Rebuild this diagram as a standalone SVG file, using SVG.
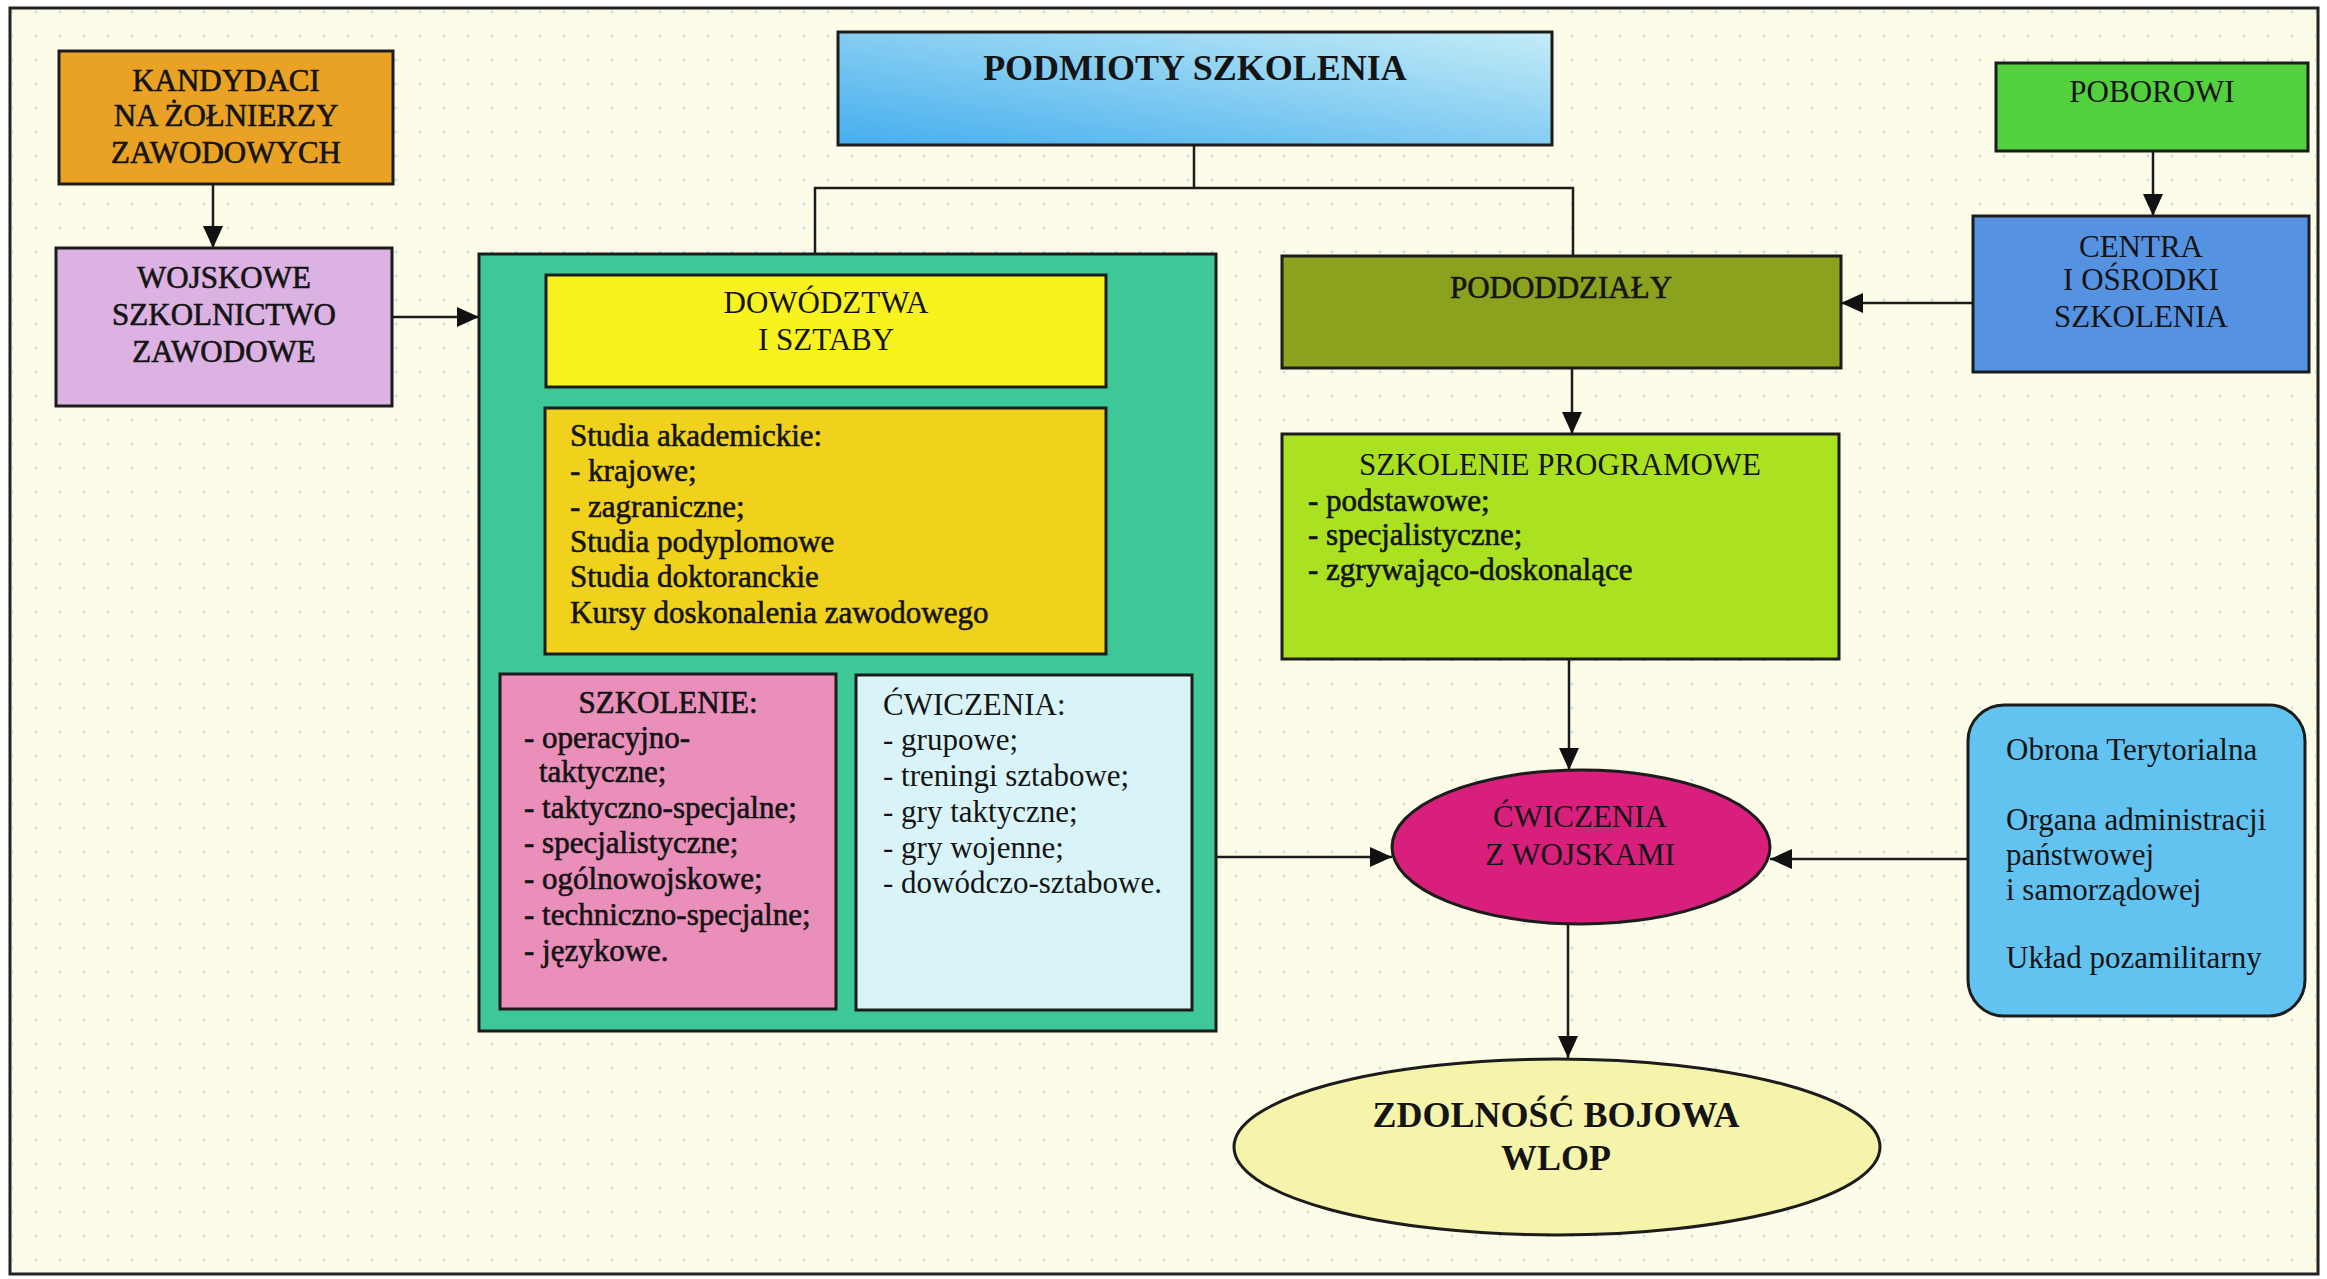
<svg xmlns="http://www.w3.org/2000/svg" width="2327" height="1279" viewBox="0 0 2327 1279">
<defs>
<style>
.t{font-family:"Liberation Serif","Times New Roman",serif;font-size:31px;fill:#141414}
.c{text-anchor:middle}
.b{font-weight:bold;font-size:36px}
.h{stroke:#141414;stroke-width:0.6}
.box{stroke:#1c1c1c;stroke-width:3}
.ln{fill:none;stroke:#1c1c1c;stroke-width:2.5}
.ar{fill:none;stroke:#1c1c1c;stroke-width:2.5;marker-end:url(#ah)}
</style>
<marker id="ah" markerUnits="userSpaceOnUse" markerWidth="22" markerHeight="20" refX="22" refY="10" orient="auto">
<path d="M0,0 L22,10 L0,20 z" fill="#111"/>
</marker>
<pattern id="dots" width="24" height="24" patternUnits="userSpaceOnUse">
<circle cx="12" cy="12" r="1.4" fill="#9fcfe0" opacity="0.6"/>
</pattern>
<linearGradient id="gPod" x1="0" y1="1" x2="1" y2="0">
<stop offset="0" stop-color="#45aeee"/>
<stop offset="1" stop-color="#c4ecf6"/>
</linearGradient>
</defs>
<rect width="2327" height="1279" fill="#ffffff"/>
<rect x="10" y="8" width="2308" height="1266" fill="#fcfce9" stroke="#222" stroke-width="3"/>
<rect x="12" y="10" width="2304" height="1262" fill="url(#dots)"/>

<g id="connectors">
<path class="ar" d="M213,184 V248"/>
<path class="ar" d="M392,317 H479"/>
<path class="ln" d="M1194,145 V188"/>
<path class="ln" d="M815,254 V188 H1573 V256"/>
<path class="ar" d="M2153,151 V216"/>
<path class="ar" d="M1973,303 H1841"/>
<path class="ar" d="M1572,368 V434"/>
<path class="ar" d="M1569,659 V770"/>
<path class="ar" d="M1216,857 H1392"/>
<path class="ar" d="M1968,859 H1770"/>
<path class="ar" d="M1568,924 V1058"/>
</g>

<g id="kandydaci">
<rect class="box" x="59" y="51" width="334" height="133" fill="#e9a224"/>
<text class="t c h" x="226" y="91">KANDYDACI</text>
<text class="t c h" x="226" y="126">NA ŻOŁNIERZY</text>
<text class="t c h" x="226" y="163">ZAWODOWYCH</text>
</g>

<g id="wojskowe">
<rect class="box" x="56" y="248" width="336" height="158" fill="#dcb2e2"/>
<text class="t c h" x="224" y="288">WOJSKOWE</text>
<text class="t c h" x="224" y="325">SZKOLNICTWO</text>
<text class="t c h" x="224" y="362">ZAWODOWE</text>
</g>

<g id="podmioty">
<rect class="box" x="838" y="32" width="714" height="113" fill="url(#gPod)"/>
<text class="t c b" x="1195" y="80">PODMIOTY SZKOLENIA</text>
</g>

<g id="grupa-dowodztwa">
<rect class="box" x="479" y="254" width="737" height="777" fill="#3ec898"/>
</g>

<g id="dowodztwa">
<rect class="box" x="546" y="275" width="560" height="112" fill="#f8f21e"/>
<text class="t c" x="826" y="313">DOWÓDZTWA</text>
<text class="t c" x="826" y="350">I SZTABY</text>
</g>

<g id="studia">
<rect class="box" x="545" y="408" width="561" height="246" fill="#f0d21c"/>
<text class="t h" x="570" y="446">Studia akademickie:</text>
<text class="t h" x="570" y="481">- krajowe;</text>
<text class="t h" x="570" y="517">- zagraniczne;</text>
<text class="t h" x="570" y="552">Studia podyplomowe</text>
<text class="t h" x="570" y="587">Studia doktoranckie</text>
<text class="t h" x="570" y="623">Kursy doskonalenia zawodowego</text>
</g>

<g id="szkolenie">
<rect class="box" x="500" y="674" width="336" height="335" fill="#e98fba"/>
<text class="t c h" x="668" y="713">SZKOLENIE:</text>
<text class="t h" x="524" y="748">- operacyjno-</text>
<text class="t h" x="539" y="782">taktyczne;</text>
<text class="t h" x="524" y="818">- taktyczno-specjalne;</text>
<text class="t h" x="524" y="853">- specjalistyczne;</text>
<text class="t h" x="524" y="889">- ogólnowojskowe;</text>
<text class="t h" x="524" y="925">- techniczno-specjalne;</text>
<text class="t h" x="524" y="961">- językowe.</text>
</g>

<g id="cwiczenia-lista">
<rect class="box" x="856" y="675" width="336" height="335" fill="#d9f4f8"/>
<text class="t" x="883" y="715">ĆWICZENIA:</text>
<text class="t" x="883" y="750">- grupowe;</text>
<text class="t" x="883" y="786">- treningi sztabowe;</text>
<text class="t" x="883" y="822">- gry taktyczne;</text>
<text class="t" x="883" y="858">- gry wojenne;</text>
<text class="t" x="883" y="893">- dowódczo-sztabowe.</text>
</g>

<g id="pododdzialy">
<rect class="box" x="1282" y="256" width="559" height="112" fill="#8ba21e"/>
<text class="t c h" x="1561" y="298">PODODDZIAŁY</text>
</g>

<g id="poborowi">
<rect class="box" x="1996" y="63" width="312" height="88" fill="#52d03e"/>
<text class="t c" x="2152" y="102">POBOROWI</text>
</g>

<g id="centra">
<rect class="box" x="1973" y="216" width="336" height="156" fill="#5592e2"/>
<text class="t c" x="2141" y="257">CENTRA</text>
<text class="t c" x="2141" y="290">I OŚRODKI</text>
<text class="t c" x="2141" y="327">SZKOLENIA</text>
</g>

<g id="szkolenie-programowe">
<rect class="box" x="1282" y="434" width="557" height="225" fill="#aae222"/>
<text class="t c" x="1560" y="475">SZKOLENIE PROGRAMOWE</text>
<text class="t h" x="1308" y="511">- podstawowe;</text>
<text class="t h" x="1308" y="545">- specjalistyczne;</text>
<text class="t h" x="1308" y="580">- zgrywająco-doskonalące</text>
</g>

<g id="cwiczenia-z-wojskami">
<ellipse class="box" cx="1581" cy="847" rx="189" ry="77" fill="#d91f7c"/>
<text class="t c" x="1580" y="827">ĆWICZENIA</text>
<text class="t c" x="1580" y="865">Z WOJSKAMI</text>
</g>

<g id="obrona">
<rect class="box" x="1968" y="705" width="337" height="311" rx="36" ry="36" fill="#62c2f0"/>
<text class="t" x="2006" y="760">Obrona Terytorialna</text>
<text class="t" x="2006" y="830">Organa administracji</text>
<text class="t" x="2006" y="865">państwowej</text>
<text class="t" x="2006" y="900">i samorządowej</text>
<text class="t" x="2006" y="968">Układ pozamilitarny</text>
</g>

<g id="zdolnosc">
<ellipse class="box" cx="1557" cy="1147" rx="323" ry="88" fill="#f5f4aa"/>
<text class="t c b" x="1556" y="1127">ZDOLNOŚĆ BOJOWA</text>
<text class="t c b" x="1556" y="1170">WLOP</text>
</g>
</svg>
